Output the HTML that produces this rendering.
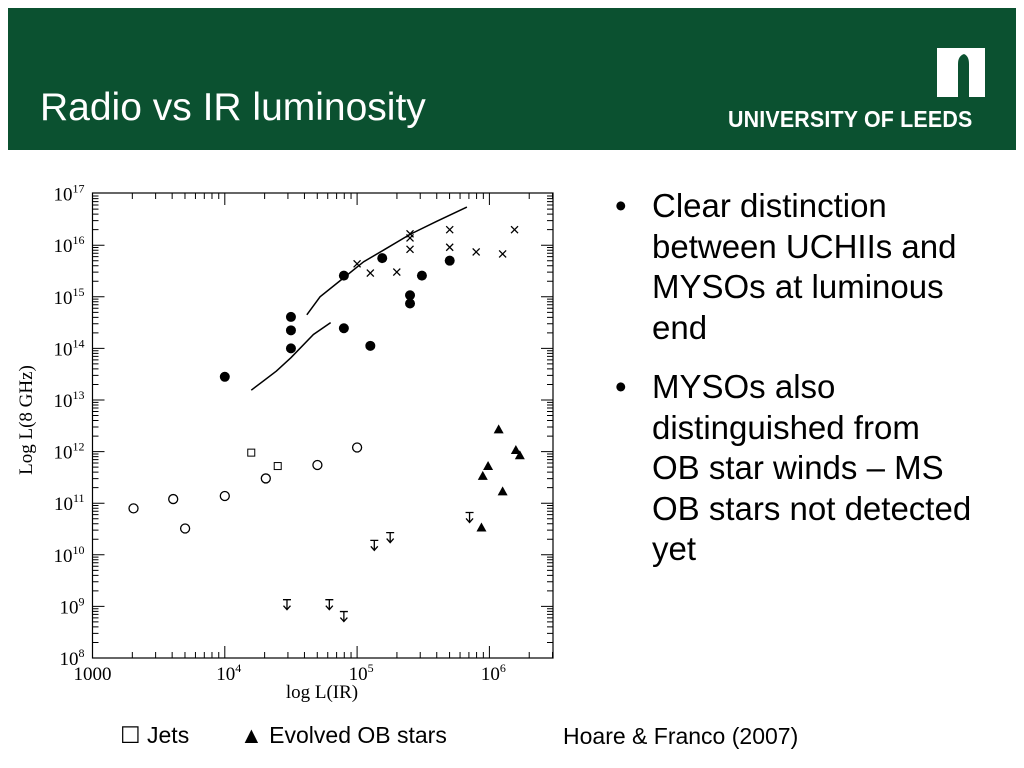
<!DOCTYPE html>
<html><head><meta charset="utf-8"><style>
body{margin:0;width:1024px;height:768px;background:#fff;position:relative;overflow:hidden;font-family:"Liberation Sans",sans-serif}
#hdr{position:absolute;left:8px;top:8px;width:1008px;height:142px;background:#0b5130}
#title{position:absolute;left:32px;top:78px;color:#fff;font-size:39px}
#uni{position:absolute;left:720px;top:98px;color:#fff;font-size:23px;font-weight:bold;letter-spacing:0.2px;transform:scaleX(0.93);transform-origin:0 0}
#logo{position:absolute;left:929px;top:40px;width:48px;height:49px;background:#fff}
ul{position:absolute;left:615px;top:186px;margin:0;padding:0;list-style:none;font-size:33px;line-height:40.5px;width:400px;white-space:nowrap}
li{position:relative;padding-left:37px;margin-bottom:19px}
li:before{content:"•";position:absolute;left:0}
.lg{position:absolute;top:722px;font-size:23px}
</style></head><body>
<div id="hdr">
<div id="title">Radio vs IR luminosity</div>
<div id="logo"><svg width="48" height="49"><path d="M27 6 q-6 2-6 10 v33 h11 v-33 q0-8-5-10z" fill="#0b5130"/></svg></div>
<div id="uni">UNIVERSITY OF LEEDS</div>
</div>
<svg id="chart" width="1024" height="768" style="position:absolute;left:0;top:0"></svg>
<ul>
<li>Clear distinction<br>between UCHIIs and<br>MYSOs at luminous<br>end</li>
<li>MYSOs also<br>distinguished from<br>OB star winds – MS<br>OB stars not detected<br>yet</li>
</ul>
<div class="lg" style="left:120px">☐ Jets</div>
<div class="lg" style="left:240px">▲ Evolved OB stars</div>
<div class="lg" style="left:563px;top:723px">Hoare &amp; Franco (2007)</div>
<script>
const filledX=[4.0,4.5,4.5,4.5,4.9,4.9,5.1,5.19,5.4,5.4,5.49,5.7];
const filledY=[13.45,14.61,14.35,14.0,15.41,14.39,14.05,15.75,15.03,14.87,15.41,15.70];
const crossX=[5.0,5.1,5.3,5.4,5.4,5.4,5.7,5.7,5.9,6.1,6.19];
const crossY=[15.64,15.46,15.48,16.22,16.14,15.92,16.30,15.96,15.87,15.83,16.30];
const openX=[3.31,3.61,3.70,4.0,4.31,4.70,5.0];
const openY=[10.90,11.08,10.51,11.14,11.48,11.74,12.08];
const sqX=[4.20,4.40];
const sqY=[11.98,11.72];
const triX=[6.07,6.20,6.23,5.99,5.95,6.10,5.94];
const triY=[12.43,12.03,11.93,11.72,11.53,11.23,10.53];
const limX=[4.47,4.79,4.90,5.13,5.25,5.85];
const limY=[9.13,9.13,8.90,10.28,10.43,10.82];
const lowCurveX=[4.20,4.39,4.50,4.67,4.80];
const lowCurveY=[13.19,13.56,13.82,14.27,14.50];
const upCurveX=[4.62,4.72,4.89,5.05,5.21,5.40,5.60,5.83];
const upCurveY=[14.65,15.0,15.35,15.68,15.92,16.21,16.46,16.74];
const yTicks=[8,9,10,11,12,13,14,15,16,17];
const xTicks=[3,4,5,6];
const xTickLabels=["1000","10","10","10"];
const X0=92.5,X1=553,Y0=193,Y1=658;
const sx=v=>X0+(v-3)*132.3;
const sy=v=>Y1-(v-8)*51.6;
const svg=document.getElementById('chart');
const NS='http://www.w3.org/2000/svg';
function mk(t,a,p){const e=document.createElementNS(NS,t);for(const k in a)e.setAttribute(k,a[k]);(p||svg).appendChild(e);return e;}
let e=mk('rect',{x:X0,y:Y0,width:X1-X0,height:Y1-Y0,fill:'none',stroke:'#000','stroke-width':1.2});


let d='';
for(let dec=3;dec<7;dec++)for(let m=1;m<10;m++){const x=sx(dec+Math.log10(m));if(x>X1)break;const L=m==1?12:6;d+=`M${x} ${Y1}v${-L}M${x} ${Y0}v${L}`;}
for(let dec=8;dec<17;dec++)for(let m=1;m<10;m++){const y=sy(dec+Math.log10(m));const L=m==1?12:6;d+=`M${X0} ${y}h${L}M${X1} ${y}h${-L}`;}
e=mk('path',{d:d,stroke:'#000','stroke-width':1,fill:'none'});


const tf='font-family:"Liberation Serif",serif;font-size:19px';
yTicks.forEach(v=>{const t=mk('text',{x:X0-8,y:sy(v)+7,'text-anchor':'end',style:tf});t.innerHTML='10<tspan dy="-8" font-size="12">'+v+'</tspan>';

});
xTicks.forEach((v,i)=>{const t=mk('text',{x:sx(v)+(v>3?4:0),y:Y1+22,'text-anchor':'middle',style:tf});t.innerHTML=xTickLabels[i]+(v>3?'<tspan dy="-8" font-size="12">'+v+'</tspan>':'');

});
e=mk('text',{x:322,y:698,'text-anchor':'middle',style:tf});e.textContent='log L(IR)';


e=mk('text',{x:0,y:0,'text-anchor':'middle',transform:'translate(32,420) rotate(-90)',style:tf});e.textContent='Log  L(8  GHz)';


function curve(xs,ys,name){const p=xs.map((v,i)=>(i?'L':'M')+sx(v)+' '+sy(ys[i])).join('');const c=mk('path',{d:p,fill:'none',stroke:'#000','stroke-width':1.5});

}
curve(lowCurveX,lowCurveY,'model-curve-low');
curve(upCurveX,upCurveY,'model-curve-high');
filledX.forEach((v,i)=>{const c=mk('circle',{cx:sx(v),cy:sy(filledY[i]),r:5,fill:'#000'});

});
crossX.forEach((v,i)=>{const x=sx(v),y=sy(crossY[i]);const c=mk('path',{d:`M${x-3.5} ${y-3.5}L${x+3.5} ${y+3.5}M${x+3.5} ${y-3.5}L${x-3.5} ${y+3.5}`,stroke:'#000','stroke-width':1.3});

});
openX.forEach((v,i)=>{const c=mk('circle',{cx:sx(v),cy:sy(openY[i]),r:4.5,fill:'none',stroke:'#000','stroke-width':1.3});

});
sqX.forEach((v,i)=>{const c=mk('rect',{x:sx(v)-3.5,y:sy(sqY[i])-3.5,width:7,height:7,fill:'none',stroke:'#000','stroke-width':1});

});
triX.forEach((v,i)=>{const x=sx(v),y=sy(triY[i]);const c=mk('path',{d:`M${x} ${y-5}L${x+5} ${y+4}L${x-5} ${y+4}Z`,fill:'#000'});

});
limX.forEach((v,i)=>{const x=sx(v),y=sy(limY[i]);const c=mk('path',{d:`M${x-4} ${y}h8M${x} ${y}v10M${x-3.5} ${y+6}L${x} ${y+10}L${x+3.5} ${y+6}`,fill:'none',stroke:'#000','stroke-width':1.3});

});
</script>
</body></html>
